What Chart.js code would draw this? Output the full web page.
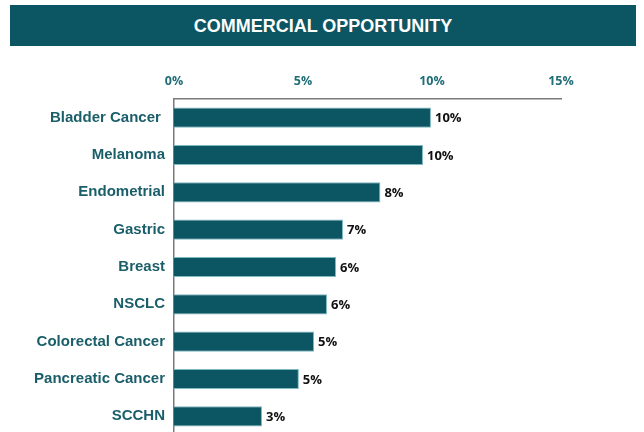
<!DOCTYPE html>
<html>
<head>
<meta charset="utf-8">
<script src="https://cdn.jsdelivr.net/npm/chart.js@4/dist/chart.umd.min.js"></script>
<style>
  html, body { margin: 0; padding: 0; background: #fff; overflow: hidden; }
  #wrap { position: relative; width: 644px; height: 432px; }
  #banner {
    position: absolute; left: 10px; top: 5px; width: 626px; height: 41px;
    background: #0b5662; color: #fff;
    font: bold 18px "Liberation Sans", Arial, sans-serif;
    display: flex; align-items: center; justify-content: center;
    padding-top: 2px; box-sizing: border-box;
    z-index: 2;
  }
  #chart { position: absolute; left: 0; top: 0; }
</style>
</head>
<body>
<div id="wrap">
  <div id="banner">COMMERCIAL OPPORTUNITY</div>
  <canvas id="chart" width="644" height="453"></canvas>
</div>
<script>
const categories = [
  "Bladder Cancer ", "Melanoma", "Endometrial", "Gastric", "Breast",
  "NSCLC", "Colorectal Cancer", "Pancreatic Cancer", "SCCHN"
];
// share of opportunity, in percent
const shares = [9.96, 9.65, 8.0, 6.55, 6.28, 5.93, 5.43, 4.84, 3.41];
const xTicks = [0, 5, 10, 15];

const teal = "#0b5662";
const labelTeal = "#1a5e69";

// value labels to the right of each bar
const valueLabels = {
  id: "valueLabels",
  afterDatasetsDraw(chart) {
    const { ctx } = chart;
    const meta = chart.getDatasetMeta(0);
    ctx.save();
    ctx.font = "bold 13px 'Open Sans', sans-serif";
    ctx.fillStyle = "#111";
    ctx.textAlign = "left";
    ctx.textBaseline = "middle";
    meta.data.forEach((bar, i) => {
      ctx.fillText(Math.round(shares[i]) + "%", bar.x + 4, bar.y + 1);
    });
    ctx.restore();
  }
};

new Chart(document.getElementById("chart"), {
  type: "bar",
  data: {
    labels: categories,
    datasets: [{
      data: shares,
      backgroundColor: teal,
      borderColor: "#7fb9c1",
      borderWidth: 1,
      borderSkipped: "left",
      barPercentage: 0.54,
      categoryPercentage: 1
    }]
  },
  options: {
    indexAxis: "y",
    responsive: false,
    animation: false,
    layout: { padding: { top: 60, right: 83, left: 0, bottom: 6 } },
    plugins: { legend: { display: false }, tooltip: { enabled: false } },
    scales: {
      x: {
        position: "top",
        min: 0,
        max: 15,
        afterBuildTicks(scale) {
          scale.ticks = xTicks.map(v => ({ value: v }));
        },
        afterFit(scale) { scale.height = 39; },
        grid: { display: false, drawTicks: false },
        border: { display: true, color: "#7a7a7a", width: 1.5 },
        ticks: {
          padding: 10,
          color: "#1f6e78",
          font: { family: "'Open Sans', sans-serif", size: 12.5, weight: "bold" },
          callback: v => v + "%"
        }
      },
      y: {
        afterFit(scale) { scale.width = 174; },
        grid: { display: false, drawTicks: false },
        border: { display: true, color: "#7a7a7a", width: 1.5 },
        ticks: {
          padding: 9,
          color: labelTeal,
          font: { family: "'Liberation Sans', Arial, sans-serif", size: 15, weight: "bold" }
        }
      }
    }
  },
  plugins: [valueLabels]
});
</script>
</body>
</html>
